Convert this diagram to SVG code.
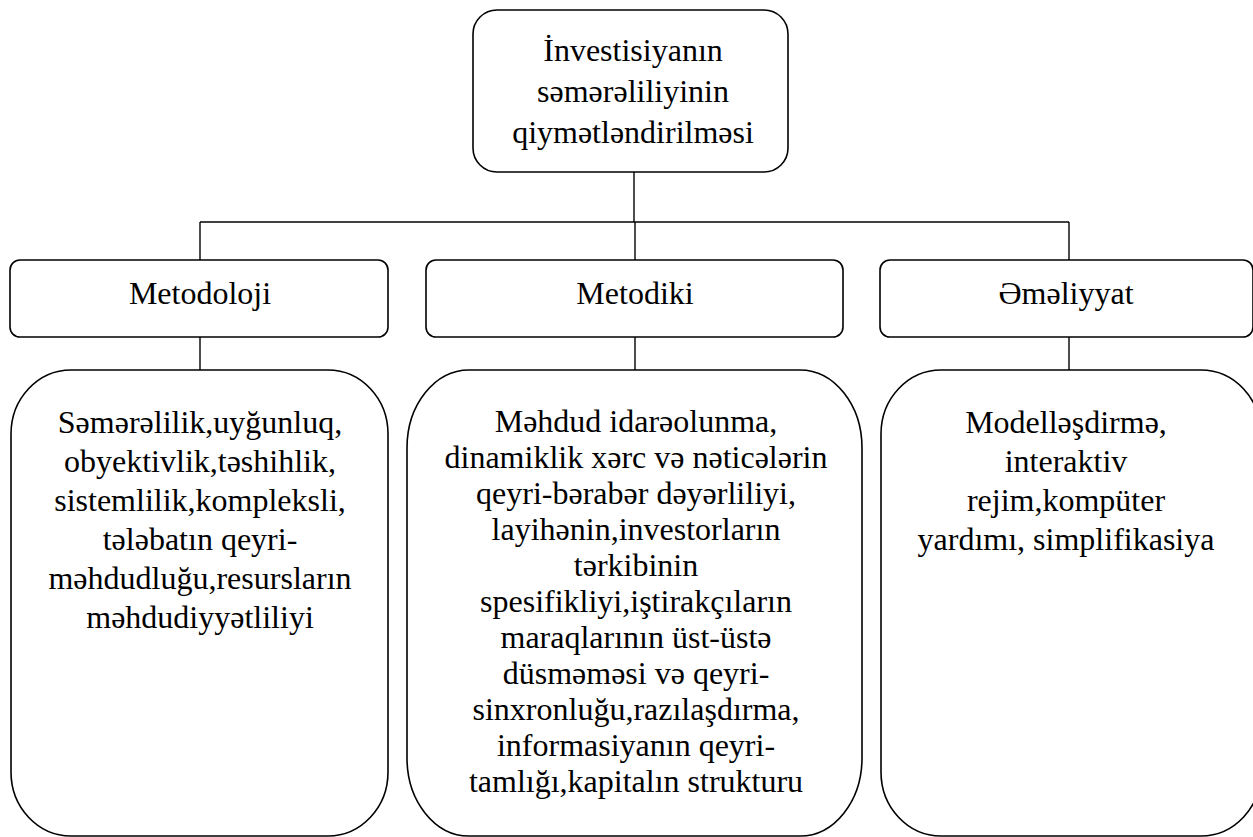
<svg xmlns="http://www.w3.org/2000/svg" width="1253" height="837" viewBox="0 0 1253 837">
<style>
.box{fill:#fff;stroke:#000;stroke-width:1.6}
.ln{stroke:#000;stroke-width:1.4;fill:none}
text{font-family:"Liberation Serif","Times New Roman",serif;font-size:32px;fill:#000;text-anchor:middle}
</style>
<rect width="1253" height="837" fill="#fff"/>
<g id="connectors">
<line class="ln" x1="634" y1="172" x2="634" y2="222"/>
<line class="ln" x1="200" y1="222" x2="1069" y2="222"/>
<line class="ln" x1="200" y1="222" x2="200" y2="260"/>
<line class="ln" x1="635" y1="222" x2="635" y2="260"/>
<line class="ln" x1="1069" y1="222" x2="1069" y2="260"/>
<line class="ln" x1="200" y1="337" x2="200" y2="370"/>
<line class="ln" x1="635" y1="337" x2="635" y2="370"/>
<line class="ln" x1="1069" y1="337" x2="1069" y2="370"/>
</g>
<g id="root">
<rect class="box" x="473" y="10" width="315" height="162" rx="24"/>
<text x="633" y="61">İnvestisiyanın</text>
<text x="633" y="102">səmərəliliyinin</text>
<text x="633" y="143">qiymətləndirilməsi</text>
</g>
<g id="metodoloji">
<rect class="box" x="10" y="260" width="378" height="77" rx="10"/>
<text x="200" y="304">Metodoloji</text>
</g>
<g id="metodiki">
<rect class="box" x="426" y="260" width="417" height="77" rx="10"/>
<text x="635" y="304">Metodiki</text>
</g>
<g id="emeliyyat">
<rect class="box" x="880" y="260" width="373" height="77" rx="10"/>
<text x="1066" y="304">Əməliyyat</text>
</g>
<g id="metodoloji-detail">
<rect class="box" x="11" y="370" width="377" height="466" rx="60" ry="64"/>
<text x="200" y="433">Səmərəlilik,uyğunluq,</text>
<text x="200" y="472">obyektivlik,təshihlik,</text>
<text x="200" y="511">sistemlilik,kompleksli,</text>
<text x="200" y="550">tələbatın qeyri-</text>
<text x="200" y="589">məhdudluğu,resursların</text>
<text x="200" y="628">məhdudiyyətliliyi</text>
</g>
<g id="metodiki-detail">
<rect class="box" x="407" y="370" width="455" height="466" rx="62" ry="78"/>
<text x="636" y="432">Məhdud idarəolunma,</text>
<text x="636" y="468">dinamiklik xərc və nəticələrin</text>
<text x="636" y="504">qeyri-bərabər dəyərliliyi,</text>
<text x="636" y="540">layihənin,investorların</text>
<text x="636" y="576">tərkibinin</text>
<text x="636" y="612">spesifikliyi,iştirakçıların</text>
<text x="636" y="648">maraqlarının üst-üstə</text>
<text x="636" y="684">düsməməsi və qeyri-</text>
<text x="636" y="720">sinxronluğu,razılaşdırma,</text>
<text x="636" y="756">informasiyanın qeyri-</text>
<text x="636" y="792">tamlığı,kapitalın strukturu</text>
</g>
<g id="emeliyyat-detail">
<rect class="box" x="881" y="370" width="380" height="466" rx="60" ry="64"/>
<text x="1066" y="433">Modelləşdirmə,</text>
<text x="1066" y="472">interaktiv</text>
<text x="1066" y="511">rejim,kompüter</text>
<text x="1066" y="550">yardımı, simplifikasiya</text>
</g>
</svg>
